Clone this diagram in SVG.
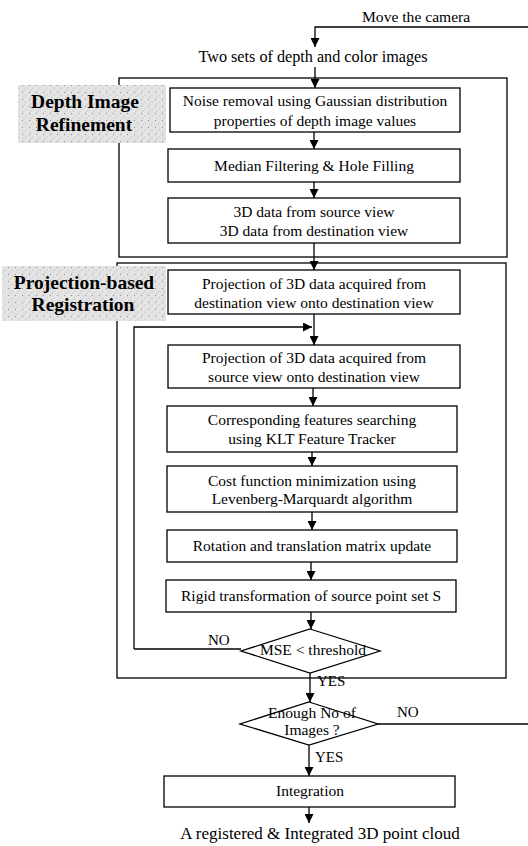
<svg xmlns="http://www.w3.org/2000/svg" width="528" height="846" viewBox="0 0 528 846">
<defs>
<style>
.t{font-family:"Liberation Serif","Times New Roman",serif;font-size:15.5px;fill:#000;text-anchor:middle}
.s{font-family:"Liberation Serif","Times New Roman",serif;font-size:15px;fill:#000}
.lbl{font-family:"Liberation Serif","Times New Roman",serif;font-size:19.5px;font-weight:bold;fill:#000;text-anchor:middle}
.box{fill:#fff;stroke:#000;stroke-width:1.3}
.frame{fill:none;stroke:#000;stroke-width:1.3}
.ln{fill:none;stroke:#000;stroke-width:1.3}
.arr{fill:none;stroke:#000;stroke-width:1.3;marker-end:url(#ah)}
</style>
<marker id="ah" viewBox="0 0 10 10" refX="10" refY="5" markerWidth="9" markerHeight="9" markerUnits="userSpaceOnUse" orient="auto">
<path d="M0,0 L10,5 L0,10 Z" fill="#000"/>
</marker>
<pattern id="dots" width="7" height="7" patternUnits="userSpaceOnUse">
<rect width="7" height="7" fill="#e4e4e4"/>
<circle cx="1.5" cy="1.5" r="0.7" fill="#9a9a9a"/>
<circle cx="5" cy="4" r="0.6" fill="#b0b0b0"/>
<circle cx="3" cy="6" r="0.5" fill="#a5a5a5"/>
</pattern>
</defs>
<rect width="528" height="846" fill="#fff"/>

<g id="frames">
<rect class="frame" x="119" y="78" width="388" height="179"/>
<rect class="frame" x="117" y="263" width="389" height="415"/>
</g>

<g id="label-depth">
<rect x="18" y="85" width="148" height="58" fill="url(#dots)"/>
<text class="lbl" x="85" y="108">Depth Image</text>
<text class="lbl" x="84" y="131">Refinement</text>
</g>
<g id="label-proj">
<rect x="2" y="266" width="164" height="55" fill="url(#dots)"/>
<text class="lbl" x="84" y="289">Projection-based</text>
<text class="lbl" x="83" y="311">Registration</text>
</g>

<g id="connectors">
<path class="arr" d="M528,27 H315 V47"/>
<path class="arr" d="M315,67 V88"/>
<path class="arr" d="M314,132 V149"/>
<path class="arr" d="M314,182 V198"/>
<path class="arr" d="M314,243 V270"/>
<path class="arr" d="M314,314 V345"/>
<path class="arr" d="M134,649 V327 H312"/>
<path class="arr" d="M313,388 V406"/>
<path class="arr" d="M312,452 V466"/>
<path class="arr" d="M312,512 V530"/>
<path class="arr" d="M311,562 V580"/>
<path class="arr" d="M311,612 V629"/>
<path class="ln" d="M241,649 H134"/>
<path class="arr" d="M310,673 V702"/>
<path class="ln" d="M378,724 H528"/>
<path class="arr" d="M309,745 V776"/>
<path class="arr" d="M309,807 V823"/>
</g>

<g id="move-camera"><text class="s" x="362" y="22" style="font-size:15.6px">Move the camera</text></g>
<g id="input"><text class="t" x="313" y="62" style="font-size:16.2px">Two sets of depth and color images</text></g>

<g id="noise">
<rect class="box" x="170" y="88" width="290" height="44"/>
<text class="t" x="315" y="106">Noise removal using Gaussian distribution</text>
<text class="t" x="315" y="126">properties of depth image values</text>
</g>
<g id="median">
<rect class="box" x="168" y="149" width="292" height="33"/>
<text class="t" x="314" y="171">Median Filtering &amp; Hole Filling</text>
</g>
<g id="data3d">
<rect class="box" x="168" y="198" width="292" height="45"/>
<text class="t" x="314" y="217">3D data from source view</text>
<text class="t" x="314" y="236">3D data from destination view</text>
</g>
<g id="projdest">
<rect class="box" x="168" y="270" width="292" height="44"/>
<text class="t" x="314" y="289">Projection of 3D data acquired from</text>
<text class="t" x="314" y="308">destination view onto destination view</text>
</g>
<g id="projsrc">
<rect class="box" x="168" y="345" width="292" height="43"/>
<text class="t" x="314" y="363">Projection of 3D data acquired from</text>
<text class="t" x="314" y="382">source view onto destination view</text>
</g>
<g id="corr">
<rect class="box" x="167" y="406" width="290" height="46"/>
<text class="t" x="312" y="425">Corresponding features searching</text>
<text class="t" x="312" y="444">using KLT Feature Tracker</text>
</g>
<g id="cost">
<rect class="box" x="167" y="466" width="290" height="46"/>
<text class="t" x="312" y="486">Cost function minimization using</text>
<text class="t" x="312" y="504">Levenberg-Marquardt algorithm</text>
</g>
<g id="rot">
<rect class="box" x="167" y="530" width="290" height="32"/>
<text class="t" x="312" y="551">Rotation and translation matrix update</text>
</g>
<g id="rigid">
<rect class="box" x="166" y="580" width="290" height="32"/>
<text class="t" x="311" y="601">Rigid transformation of source point set S</text>
</g>
<g id="mse">
<polygon class="box" points="310,629 380,651 310,673 241,651"/>
<text class="t" x="313" y="655">MSE &lt; threshold</text>
<text class="s" x="208" y="645">NO</text>
<text class="s" x="317" y="686">YES</text>
</g>
<g id="enough">
<polygon class="box" points="309,702 378,724 309,745 240,724"/>
<text class="t" x="312" y="718">Enough No of</text>
<text class="t" x="312" y="735">Images ?</text>
<text class="s" x="397" y="717">NO</text>
<text class="s" x="315" y="762">YES</text>
</g>
<g id="integration">
<rect class="box" x="164" y="776" width="291" height="31"/>
<text class="t" x="310" y="796">Integration</text>
</g>
<g id="output"><text class="t" x="320" y="839" style="font-size:17px">A registered &amp; Integrated 3D point cloud</text></g>
</svg>
